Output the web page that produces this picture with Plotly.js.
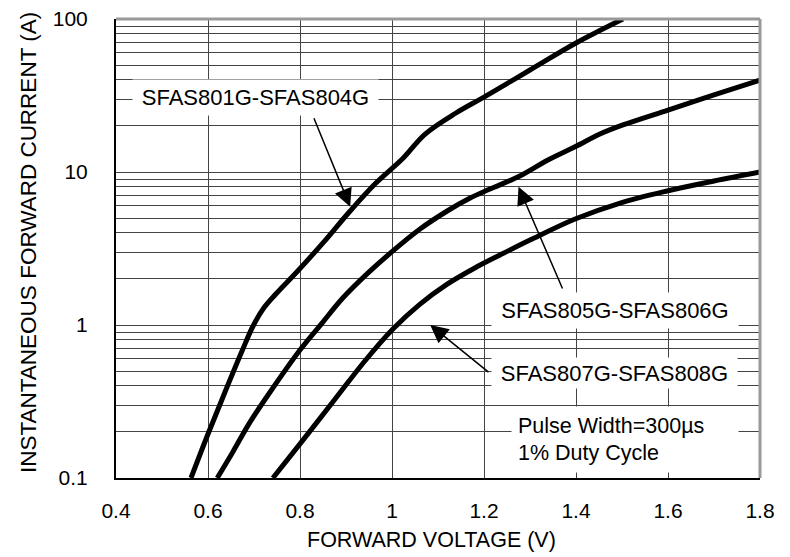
<!DOCTYPE html>
<html>
<head>
<meta charset="utf-8">
<script src="https://cdn.plot.ly/plotly-3.0.1.min.js"></script>
<style>html,body{margin:0;padding:0;background:#fff;}#chart{width:790px;height:557px;}</style>
</head>
<body>
<div id="chart"></div>
<script>
// Series: SFAS801G-SFAS804G
var v1 = [0.563, 0.600, 0.637, 0.674, 0.698, 0.722, 0.748, 0.793, 0.850, 0.909, 0.965, 1.024, 1.072, 1.139, 1.200, 1.300, 1.400, 1.502];
var i1 = [0.1, 0.194, 0.365, 0.676, 0.985, 1.30, 1.60, 2.22, 3.44, 5.56, 8.47, 12.3, 17.7, 24.3, 30.9, 46.4, 69.7, 100];
// Series: SFAS805G-SFAS806G
var v2 = [0.620, 0.654, 0.689, 0.735, 0.800, 0.848, 0.893, 0.948, 1.002, 1.061, 1.120, 1.170, 1.213, 1.278, 1.339, 1.398, 1.452, 1.502, 1.600, 1.700, 1.800];
var i2 = [0.1, 0.148, 0.226, 0.365, 0.687, 1.03, 1.50, 2.19, 3.05, 4.24, 5.56, 6.76, 7.74, 9.42, 11.98, 14.6, 17.7, 20.3, 25.4, 31.9, 39.9];
// Series: SFAS807G-SFAS808G
var v3 = [0.741, 0.800, 0.878, 0.941, 1.002, 1.061, 1.120, 1.180, 1.235, 1.300, 1.398, 1.496, 1.598, 1.700, 1.800];
var i3 = [0.1, 0.167, 0.333, 0.582, 0.942, 1.37, 1.85, 2.36, 2.87, 3.59, 4.93, 6.27, 7.51, 8.73, 10];

var seriesNames = ["SFAS801G-SFAS804G", "SFAS805G-SFAS806G", "SFAS807G-SFAS808G"];
var noteLines = ["Pulse Width=300\u00b5s", "1% Duty Cycle"];

var xTickVals = [0.4, 0.6, 0.8, 1.0, 1.2, 1.4, 1.6, 1.8];
var xTickText = ["0.4", "0.6", "0.8", "1", "1.2", "1.4", "1.6", "1.8"];
var yTickVals = [0.1,0.2,0.3,0.4,0.5,0.6,0.7,0.8,0.9,
                 1,2,3,4,5,6,7,8,9,
                 10,20,30,40,50,60,70,80,90,100];
var yTickText = ["0.1","","","","","","","","",
                 "1","","","","","","","","",
                 "10","","","","","","","","","100"];

var xTitle = "FORWARD VOLTAGE (V)";
var yTitle = "INSTANTANEOUS FORWARD CURRENT (A)";

var FONT = "Liberation Sans, Arial, Helvetica, sans-serif";

function curve(v, i, name) {
  return {x: v, y: i, name: name, type: "scatter", mode: "lines",
          line: {color: "#000", width: 5, shape: "spline", smoothing: 1},
          hoverinfo: "skip"};
}
var data = [curve(v1, i1, seriesNames[0]), curve(v2, i2, seriesNames[1]), curve(v3, i3, seriesNames[2])];

var labelStyle = {xref: "x", yref: "y", showarrow: false, bgcolor: "#fff",
                  font: {family: FONT, size: 22, color: "#000"}, borderpad: 0};

var annotations = [
  Object.assign({}, labelStyle, {text: seriesNames[0], x: 0.704, y: 1.487, width: 245, height: 35}),
  Object.assign({}, labelStyle, {text: seriesNames[1], x: 1.485, y: 0.095, width: 246, height: 35}),
  Object.assign({}, labelStyle, {text: seriesNames[2], x: 1.484, y: -0.314, width: 245, height: 30}),
  Object.assign({}, labelStyle, {text: noteLines.join("<br>"), x: 1.507, y: -0.748, width: 214, height: 53,
                                 borderpad: 6, align: "left", font: {family: FONT, size: 21.5, color: "#000"}}),
  // arrows
  {xref: "x", yref: "y", axref: "x", ayref: "y", text: "", showarrow: true,
   x: 0.909, y: 0.773, ax: 0.829, ay: 1.361, arrowhead: 2, arrowsize: 2.4, arrowwidth: 1.5, arrowcolor: "#000", standoff: 0},
  {xref: "x", yref: "y", axref: "x", ayref: "y", text: "", showarrow: true,
   x: 1.275, y: 0.904, ax: 1.372, ay: 0.229, arrowhead: 2, arrowsize: 2.4, arrowwidth: 1.5, arrowcolor: "#000", standoff: 0},
  {xref: "x", yref: "y", axref: "x", ayref: "y", text: "", showarrow: true,
   x: 1.083, y: 0.0, ax: 1.213, ay: -0.316, arrowhead: 2, arrowsize: 2.4, arrowwidth: 1.5, arrowcolor: "#000", standoff: 0},
  // axis titles
  {xref: "paper", yref: "paper", showarrow: false, text: xTitle, x: 0.49, y: -0.135,
   xanchor: "center", yanchor: "middle", font: {family: FONT, size: 21.5, color: "#000"}},
  {xref: "paper", yref: "paper", showarrow: false, text: yTitle, x: -0.135, y: 0.512, textangle: -90,
   xanchor: "center", yanchor: "middle", font: {family: FONT, size: 22.5, color: "#000"}}
];

var layout = {
  width: 790, height: 557,
  margin: {l: 116, r: 30, t: 19, b: 79},
  paper_bgcolor: "#fff", plot_bgcolor: "#fff",
  showlegend: false,
  font: {family: FONT, color: "#000"},
  xaxis: {range: [0.4, 1.8], tickvals: xTickVals, ticktext: xTickText,
          showgrid: true, gridcolor: "#444", gridwidth: 1, zeroline: false,
          showline: true, linecolor: "#000", linewidth: 2,
          ticks: "outside", ticklen: 13, tickcolor: "rgba(0,0,0,0)",
          tickfont: {family: FONT, size: 21, color: "#000"}},
  yaxis: {type: "log", range: [-1, 2], tickvals: yTickVals, ticktext: yTickText,
          showgrid: true, gridcolor: "#444", gridwidth: 1, zeroline: false,
          showline: true, linecolor: "#000", linewidth: 2,
          ticks: "outside", ticklen: 22, tickcolor: "rgba(0,0,0,0)",
          tickfont: {family: FONT, size: 21, color: "#000"}},
  shapes: [
    {type: "line", xref: "paper", yref: "paper", x0: 0, x1: 1, y0: 1, y1: 1, line: {color: "#999", width: 3}},
    {type: "line", xref: "paper", yref: "paper", x0: 1, x1: 1, y0: 0, y1: 1, line: {color: "#999", width: 3}}
  ],
  annotations: annotations
};

Plotly.newPlot("chart", data, layout, {displayModeBar: false, staticPlot: true});
</script>
</body>
</html>
